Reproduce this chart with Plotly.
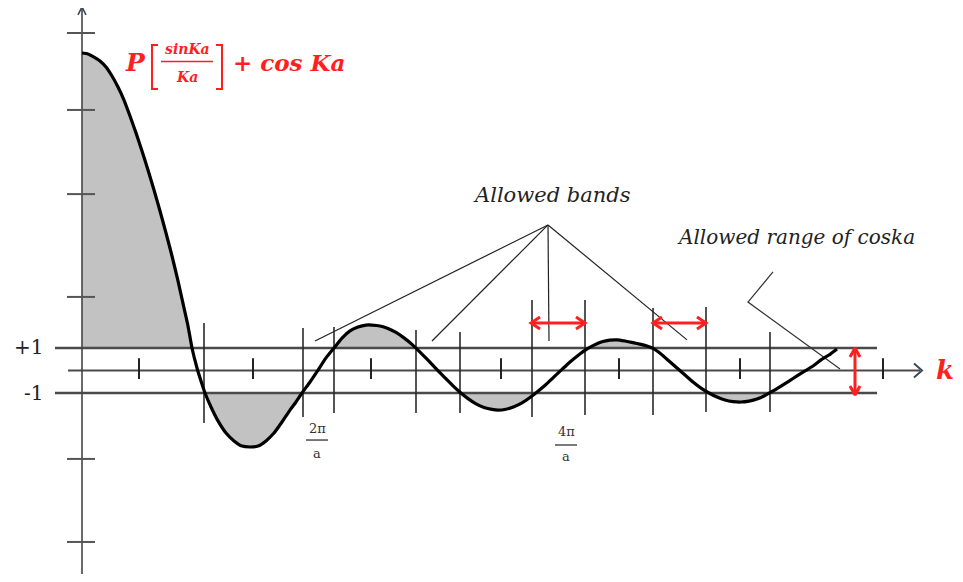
import plotly.graph_objects as go

# ---------------- data (k in arbitrary units, y = P sinKa/Ka + cos Ka) ----------------
curve_k = [0.00, 0.06, 0.12, 0.18, 0.24, 0.30, 0.36, 0.42, 0.48, 0.54, 0.60, 0.66, 0.72, 0.78,
           0.84, 0.90, 0.96, 1.02, 1.06, 1.10, 1.15, 1.19, 1.23, 1.29, 1.36, 1.44, 1.52, 1.60,
           1.68, 1.76, 1.84, 1.92, 2.00, 2.08, 2.14, 2.20, 2.28, 2.36, 2.44, 2.52, 2.60, 2.68,
           2.76, 2.84, 2.90, 2.98, 3.06, 3.14, 3.22, 3.30, 3.38, 3.46, 3.54, 3.62, 3.70, 3.78,
           3.86, 3.94, 4.02, 4.10, 4.16, 4.24, 4.32, 4.40, 4.48, 4.56, 4.64, 4.72, 4.80, 4.88,
           4.96, 5.04, 5.12, 5.20, 5.28, 5.35, 5.43, 5.51, 5.59, 5.65, 5.71, 5.79, 5.87, 5.95,
           6.03, 6.11, 6.19, 6.27, 6.35, 6.43, 6.51, 6.59, 6.67, 6.75, 6.83, 6.91, 6.99, 7.07,
           7.15, 7.23, 7.31, 7.39, 7.47, 7.55]
curve_y = [14.11, 14.07, 13.93, 13.76, 13.49, 13.09, 12.60, 12.02, 11.31, 10.56, 9.76, 8.91, 8.02, 7.09,
           6.11, 5.09, 3.98, 2.78, 1.98, 1.00, 0.11, -0.47, -1.00, -1.62, -2.24, -2.78, -3.13, -3.36,
           -3.40, -3.36, -3.13, -2.78, -2.29, -1.76, -1.40, -1.00, -0.51, 0.02, 0.56, 1.00, 1.44, 1.76,
           1.93, 2.02, 2.02, 1.98, 1.87, 1.69, 1.45, 1.16, 0.82, 0.46, 0.08, -0.28, -0.64, -0.97,
           -1.25, -1.48, -1.64, -1.73, -1.76, -1.72, -1.61, -1.44, -1.20, -0.92, -0.62, -0.28, 0.05, 0.38,
           0.67, 0.93, 1.13, 1.28, 1.35, 1.36, 1.31, 1.24, 1.16, 1.09, 0.98, 0.73, 0.42, 0.11,
           -0.20, -0.51, -0.78, -1.00, -1.18, -1.31, -1.38, -1.40, -1.36, -1.27, -1.11, -0.91, -0.69, -0.47,
           -0.24, -0.02, 0.20, 0.47, 0.69, 0.96]

allowed_upper = 1.0
allowed_lower = -1.0

y_ticks = [15.0, 11.58, 7.84, 3.27, -3.93, -7.62]
k_ticks = [0.57, 1.71, 2.89, 4.19, 5.37, 6.58, 8.01]

band_line_k = [1.22, 2.21, 2.52, 3.34, 3.78, 4.50, 5.03, 5.71, 6.24, 6.88]
band_line_top = [2.11, 1.89, 1.93, 1.80, 1.71, 3.13, 3.13, 2.78, 2.82, 1.71]
band_line_bottom = [-2.33, -2.07, -1.89, -1.89, -1.89, -2.07, -1.98, -1.98, -1.84, -1.84]

band_arrows_k = [(4.49, 5.03), (5.71, 6.24)]
band_arrow_y = 2.11
range_arrow_k = 7.73
range_arrow_y = (1.00, -1.09)

bands_apex = (4.66, 6.47)
bands_targets = [(2.33, 1.31), (3.50, 1.31), (4.67, 1.31), (6.05, 1.36)]
range_pointer = [(6.91, 4.38), (6.66, 3.04), (7.58, 0.07)]

# the page adds an 8px body margin, so the figure is 947x566 placed at (8, 8)
FIG_W, FIG_H = 947, 566
X_RANGE = [-0.74, 8.73]
Y_RANGE = [-9.044, 16.111]

DX = (X_RANGE[1] - X_RANGE[0]) / FIG_W
DY = (Y_RANGE[1] - Y_RANGE[0]) / FIG_H

RED = "#ff1f1f"
FILL = "#c2c2c2"

fig = go.Figure()

n = len(curve_k)
# shaded regions above +1
fig.add_trace(go.Scatter(x=curve_k, y=[allowed_upper] * n, mode="lines",
                         line=dict(width=0), hoverinfo="skip", showlegend=False))
fig.add_trace(go.Scatter(x=curve_k, y=[max(v, allowed_upper) for v in curve_y], mode="lines",
                         line=dict(width=0), fill="tonexty",
                         fillcolor=FILL, hoverinfo="skip", showlegend=False))
# shaded regions below -1
fig.add_trace(go.Scatter(x=curve_k, y=[allowed_lower] * n, mode="lines",
                         line=dict(width=0), hoverinfo="skip", showlegend=False))
fig.add_trace(go.Scatter(x=curve_k, y=[min(v, allowed_lower) for v in curve_y], mode="lines",
                         line=dict(width=0), fill="tonexty",
                         fillcolor=FILL, hoverinfo="skip", showlegend=False))


def seg_trace(segs, color, width):
    xs, ys = [], []
    for (x0, y0), (x1, y1) in segs:
        xs += [x0, x1, None]
        ys += [y0, y1, None]
    fig.add_trace(go.Scatter(x=xs, y=ys, mode="lines", line=dict(color=color, width=width),
                             hoverinfo="skip", showlegend=False))


def poly_trace(pts, color, width):
    fig.add_trace(go.Scatter(x=[p[0] for p in pts], y=[p[1] for p in pts], mode="lines",
                             line=dict(color=color, width=width), hoverinfo="skip",
                             showlegend=False))


# horizontal reference lines (+1, 0 axis, -1)
seg_trace([((-0.27, allowed_upper), (7.95, allowed_upper)),
           ((-0.27, allowed_lower), (7.95, allowed_lower))], "#4a4a4a", 2.4)
seg_trace([((-0.14, 0.0), (8.38, 0.0))], "#4a4a4a", 2.2)
# k-axis arrow head
poly_trace([(8.40 - 8 * DX, 7 * DY), (8.40, 0.0), (8.40 - 8 * DX, -7 * DY)], "#3a4a5a", 2)

# y axis + arrow head
seg_trace([((0.0, Y_RANGE[0]), (0.0, 16.16))], "#444444", 1.6)
poly_trace([(-4 * DX, 16.16 - 8 * DY), (0.0, 16.16), (4 * DX, 16.16 - 8 * DY)], "#3a4a5a", 1.6)

# y ticks
seg_trace([((-15 * DX, t), (13 * DX, t)) for t in y_ticks], "#555555", 2)
# k ticks
seg_trace([((t, 0.54), (t, -0.38)) for t in k_ticks], "#222222", 2)
# vertical band-edge lines
seg_trace([((k, t), (k, b)) for k, t, b in zip(band_line_k, band_line_top, band_line_bottom)],
          "#2a2a2a", 1.6)

# pointer lines
seg_trace([(bands_apex, p) for p in bands_targets], "#222222", 1.2)
poly_trace(range_pointer, "#333333", 1.2)

# main curve
fig.add_trace(go.Scatter(x=curve_k, y=curve_y, mode="lines",
                         line=dict(color="black", width=3.2, shape="spline", smoothing=0.5),
                         hoverinfo="skip", showlegend=False))

# red double arrows
hl, hh = 9 * DX, 6 * DY
for x0, x1 in band_arrows_k:
    y = band_arrow_y
    seg_trace([((x0, y), (x1, y))], RED, 3)
    poly_trace([(x0 + hl, y + hh), (x0, y), (x0 + hl, y - hh)], RED, 3)
    poly_trace([(x1 - hl, y + hh), (x1, y), (x1 - hl, y - hh)], RED, 3)
vt, vb = range_arrow_y
vl, vw = 9 * DY, 5 * DX
seg_trace([((range_arrow_k, vt), (range_arrow_k, vb))], RED, 3)
poly_trace([(range_arrow_k - vw, vt - vl), (range_arrow_k, vt), (range_arrow_k + vw, vt - vl)], RED, 3)
poly_trace([(range_arrow_k - vw, vb + vl), (range_arrow_k, vb), (range_arrow_k + vw, vb + vl)], RED, 3)

# formula brackets and fraction bars
poly_trace([(0.76, 14.47), (0.70, 14.47), (0.70, 12.51), (0.76, 12.51)], RED, 2)
poly_trace([(1.34, 14.47), (1.40, 14.47), (1.40, 12.51), (1.34, 12.51)], RED, 2)
seg_trace([((0.79, 13.73), (1.31, 13.73))], RED, 1.6)
seg_trace([((2.24, -3.09), (2.46, -3.09))], "#333333", 1.3)
seg_trace([((4.73, -3.31), (4.95, -3.31))], "#333333", 1.3)

SERIF = "DejaVu Serif"
ann = []


def text(x, y, s, size, color, family=SERIF, xanchor="center"):
    ann.append(dict(x=x, y=y, xref="x", yref="y", text=s, showarrow=False,
                    font=dict(family=family, size=size, color=color),
                    xanchor=xanchor, yanchor="middle"))


text(0.53, 13.71, "<b><i>P</i></b>", 25, RED)
text(1.05, 14.28, "<b><i>sinKa</i></b>", 14, RED)
text(1.05, 13.04, "<b><i>Ka</i></b>", 14, RED)
text(1.49, 13.71, "<b><i>+ cos Ka</i></b>", 23, RED, xanchor="left")
text(4.70, 7.80, "<i>Allowed bands</i>", 21, "#222222")
text(7.14, 5.93, "<i>Allowed range of coska</i>", 20, "#222222")
text(-0.54, 1.04, "+1", 20, "#222222")
text(-0.49, -1.00, "-1", 20, "#222222")
text(2.35, -2.56, "2π", 13, "#333333")
text(2.35, -3.67, "a", 13, "#333333")
text(4.84, -2.73, "4π", 13, "#333333")
text(4.84, -3.84, "a", 13, "#333333")
text(8.63, 0.02, "<b><i>k</i></b>", 26, RED)

fig.update_layout(
    width=FIG_W, height=FIG_H,
    margin=dict(l=0, r=0, t=0, b=0),
    paper_bgcolor="white", plot_bgcolor="white",
    xaxis=dict(range=X_RANGE, visible=False, fixedrange=True),
    yaxis=dict(range=Y_RANGE, visible=False, fixedrange=True),
    annotations=ann,
    showlegend=False,
)

fig.write_html("out.html")
